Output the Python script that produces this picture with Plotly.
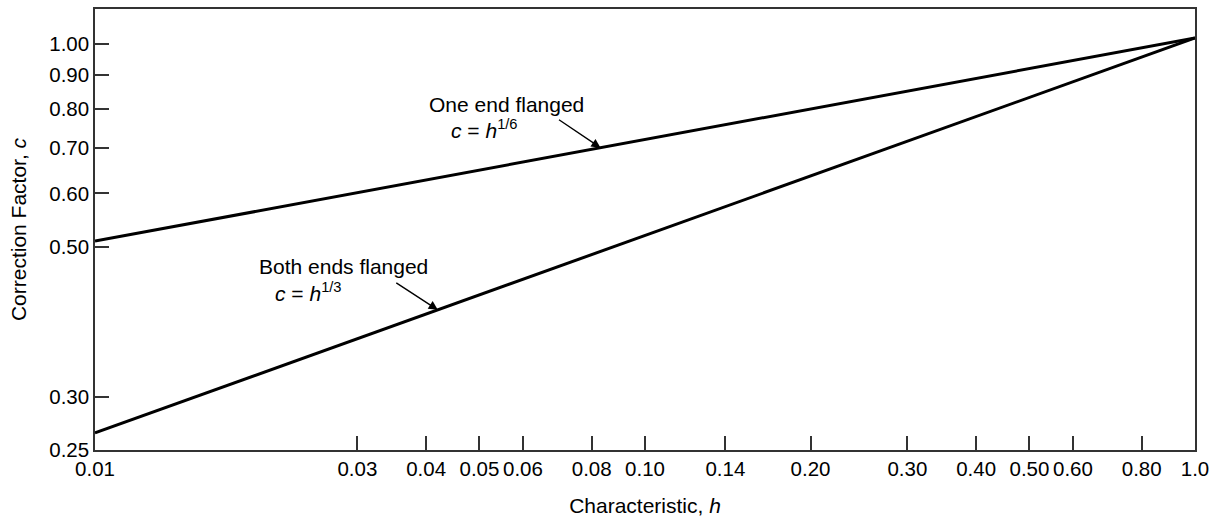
import math
import plotly.graph_objects as go

h = [0.01, 1.0]
c_one_end = [0.51, 1.02]
c_both_ends = [0.265, 1.02]

x_ticks = [0.01, 0.03, 0.04, 0.05, 0.06, 0.08, 0.10, 0.14, 0.20, 0.30, 0.40, 0.50, 0.60, 0.80, 1.0]
x_labels = ["0.01", "0.03", "0.04", "0.05", "0.06", "0.08", "0.10", "0.14", "0.20",
            "0.30", "0.40", "0.50", "0.60", "0.80", "1.0"]
y_ticks = [0.25, 0.30, 0.50, 0.60, 0.70, 0.80, 0.90, 1.00]
y_labels = ["0.25", "0.30", "0.50", "0.60", "0.70", "0.80", "0.90", "1.00"]

FONT = "Liberation Sans, Arial, Helvetica, sans-serif"


def on_line(hx, ys):
    # log-log interpolation along a straight segment
    t = (math.log10(hx) - math.log10(h[0])) / (math.log10(h[1]) - math.log10(h[0]))
    return math.log10(ys[0]) + t * (math.log10(ys[1]) - math.log10(ys[0]))


fig = go.Figure()
for ys in (c_one_end, c_both_ends):
    fig.add_trace(go.Scatter(x=h, y=ys, mode="lines",
                             line=dict(color="black", width=3), showlegend=False,
                             hoverinfo="skip"))

annotations = []
for hx, ys, ax, ay in [(0.083, c_one_end, -43, -29), (0.042, c_both_ends, -43, -28)]:
    annotations.append(dict(x=math.log10(hx), y=on_line(hx, ys), xref="x", yref="y",
                            text="", showarrow=True, arrowhead=2, arrowsize=1.3,
                            arrowwidth=1.4, arrowcolor="black", ax=ax, ay=ay,
                            axref="pixel", ayref="pixel"))

texts = [
    ("One end flanged", -1.396, -0.090),
    ("<i>c</i> = <i>h</i><sup>1/6</sup>", -1.356, -0.127),
    ("Both ends flanged", -1.705, -0.330),
    ("<i>c</i> = <i>h</i><sup>1/3</sup>", -1.676, -0.368),
]
for txt, xx, yy in texts:
    annotations.append(dict(x=xx, y=yy, xref="x", yref="y", text=txt, showarrow=False,
                            xanchor="left", yanchor="middle",
                            font=dict(family=FONT, size=21, color="black")))

fig.update_layout(
    width=1220, height=525,
    margin=dict(l=95, r=25, t=7, b=75),
    plot_bgcolor="white", paper_bgcolor="white",
    font=dict(family=FONT, size=20, color="black"),
    annotations=annotations,
    xaxis=dict(type="log", range=[-2, 0], tickvals=x_ticks, ticktext=x_labels,
               tickfont=dict(size=20.5), ticks="inside", ticklen=14, tickwidth=1.5,
               tickcolor="#333", showline=True, linecolor="#333", linewidth=1.5,
               mirror=True, showgrid=False, zeroline=False,
               title=dict(text="Characteristic, <i>h</i>", font=dict(size=21), standoff=19)),
    yaxis=dict(type="log", range=[math.log10(0.25), math.log10(1.126)],
               tickvals=y_ticks, ticktext=y_labels,
               tickfont=dict(size=20.5), ticks="inside", ticklen=14, tickwidth=1.5,
               tickcolor="#333", showline=True, linecolor="#333", linewidth=1.5,
               mirror=True, showgrid=False, zeroline=False,
               title=dict(text="Correction Factor, <i>c</i>", font=dict(size=21), standoff=17)),
)

fig.write_html("out.html", config={"displayModeBar": False},
               post_script="document.body.style.margin='0';")
